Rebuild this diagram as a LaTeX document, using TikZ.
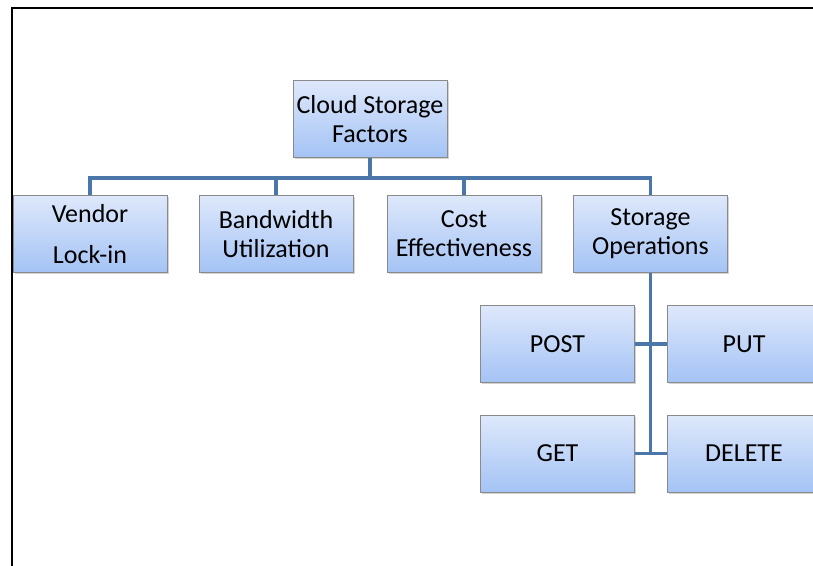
\documentclass[tikz,border=0pt]{standalone}
\usepackage{fontspec}
\setmainfont{Carlito}
\usetikzlibrary{shadows}
\definecolor{conn}{HTML}{4A76AA}
\definecolor{boxtop}{HTML}{DEE8FB}
\definecolor{boxbot}{HTML}{A4C3F5}
\definecolor{boxline}{HTML}{8A8A8A}
\tikzset{
  box/.style={draw=boxline, line width=0.9pt, top color=boxtop, bottom color=boxbot,
    minimum width=154pt, minimum height=77pt, align=center, inner sep=2pt,
    font=\fontsize{26}{29}\selectfont,
    drop shadow={shadow xshift=1.5pt, shadow yshift=-1.5pt, opacity=0.35, fill=gray}},
  conline/.style={draw=conn, line width=3.6pt},
  frame/.style={draw=black, line width=1.6pt}
}
\begin{document}
\begin{tikzpicture}[x=1pt,y=-1pt]
\useasboundingbox (0,0) rectangle (813,565);
\draw[frame] (12,566) -- (12,8) -- (814,8);
\node[box] (top) at (370,119) {Cloud Storage\\Factors};
\node[box] (vendor) at (90,234) {Vendor\\[12pt]Lock-in};
\node[box] (bw) at (276,234) {Bandwidth\\Utilization};
\node[box] (cost) at (464,234) {Cost\\Effectiveness};
\node[box] (so) at (650.5,234) {Storage\\Operations};
\node[box] (post) at (557.5,344) {POST};
\node[box] (put) at (744,344) {PUT};
\node[box] (get) at (557.5,453.5) {GET};
\node[box] (delete) at (744,453.5) {DELETE};
\coordinate (bar) at (370,178);
\draw[conline] (top.south) -- (bar);
\draw[conline] (bar) -| (vendor.north);
\draw[conline] (bar) -| (bw.north);
\draw[conline] (bar) -| (cost.north);
\draw[conline] (bar) -| (so.north);
\draw[conline] (so.south) -- (so.south |- get.east);
\draw[conline] (post.east) -- (put.west);
\draw[conline] (get.east) -- (delete.west);
\end{tikzpicture}
\end{document}
